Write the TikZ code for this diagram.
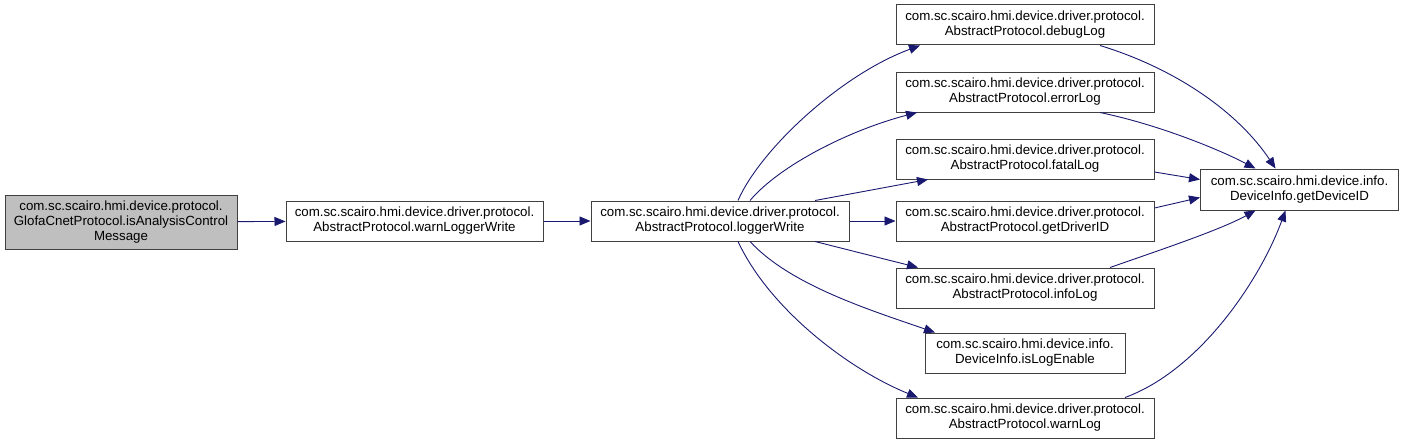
\documentclass[tikz,border=0pt]{standalone}
\usepackage{fontspec}
\setmainfont{Liberation Sans}
\usetikzlibrary{arrows.meta}
\begin{document}
\begin{tikzpicture}[x=1pt,y=-1pt,
  box/.style={draw=black!75,line width=1pt,fill=white,minimum height=40pt,inner sep=0pt,align=center,font=\fontsize{13.3}{15}\selectfont},
  edge/.style={draw={rgb,255:red,25;green,25;blue,112},line width=0.9pt,-{Triangle[length=11pt,width=9pt]},fill=none}]
\useasboundingbox (0,0) rectangle (1404,444);
\node[box,fill=black!25,minimum width=232pt,minimum height=54pt] (A) at (121,222) {com.sc.scairo.hmi.device.protocol.\\GlofaCnetProtocol.isAnalysisControl\\Message};
\node[box,minimum width=257pt] (B) at (414.5,221) {com.sc.scairo.hmi.device.driver.protocol.\\AbstractProtocol.warnLoggerWrite};
\node[box,minimum width=258pt] (C) at (720,221) {com.sc.scairo.hmi.device.driver.protocol.\\AbstractProtocol.loggerWrite};
\node[box,minimum width=258pt] (D1) at (1025,25) {com.sc.scairo.hmi.device.driver.protocol.\\AbstractProtocol.debugLog};
\node[box,minimum width=258pt] (D2) at (1025,92) {com.sc.scairo.hmi.device.driver.protocol.\\AbstractProtocol.errorLog};
\node[box,minimum width=258pt] (D3) at (1025,159) {com.sc.scairo.hmi.device.driver.protocol.\\AbstractProtocol.fatalLog};
\node[box,minimum width=258pt] (D4) at (1025,221) {com.sc.scairo.hmi.device.driver.protocol.\\AbstractProtocol.getDriverID};
\node[box,minimum width=258pt] (D5) at (1025,288) {com.sc.scairo.hmi.device.driver.protocol.\\AbstractProtocol.infoLog};
\node[box,minimum width=200pt] (D6) at (1025,353) {com.sc.scairo.hmi.device.info.\\DeviceInfo.isLogEnable};
\node[box,minimum width=258pt] (D7) at (1025,418) {com.sc.scairo.hmi.device.driver.protocol.\\AbstractProtocol.warnLog};
\node[box,minimum width=198pt,minimum height=41pt] (E) at (1299.5,189.5) {com.sc.scairo.hmi.device.info.\\DeviceInfo.getDeviceID};
\draw[edge] (A) -- (B);
\draw[edge] (B) -- (C);
\draw[edge] (C) -- (D4);
\draw[edge] ([xshift=18pt]C.north) .. controls (760,150) and (840,75) .. ([xshift=-105pt]D1.south);
\draw[edge] ([xshift=30pt]C.north) .. controls (780,165) and (850,130) .. ([xshift=-108pt]D2.south);
\draw[edge] ([xshift=95pt]C.north) -- ([xshift=-97pt]D3.south);
\draw[edge] ([xshift=95pt]C.south) -- ([xshift=-107pt]D5.north);
\draw[edge] ([xshift=30pt]C.south) .. controls (790,285) and (870,310) .. ([xshift=-90pt]D6.north);
\draw[edge] ([xshift=18pt]C.south) .. controls (770,310) and (850,370) .. ([xshift=-107pt]D7.north);
\draw[edge] ([xshift=75pt]D1.south) .. controls (1180,70) and (1240,115) .. ([xshift=-24pt]E.north);
\draw[edge] ([xshift=75pt]D2.south) .. controls (1160,125) and (1220,150) .. ([xshift=-44pt]E.north);
\draw[edge] ([yshift=-13pt]D3.east) -- ([yshift=10pt]E.west);
\draw[edge] ([yshift=13pt]D4.east) -- ([yshift=-8pt]E.west);
\draw[edge] ([xshift=85pt]D5.north) .. controls (1160,250) and (1220,230) .. ([xshift=-44pt]E.south);
\draw[edge] ([xshift=100pt]D7.north) .. controls (1200,370) and (1260,280) .. ([xshift=-14pt]E.south);
\end{tikzpicture}
\end{document}
